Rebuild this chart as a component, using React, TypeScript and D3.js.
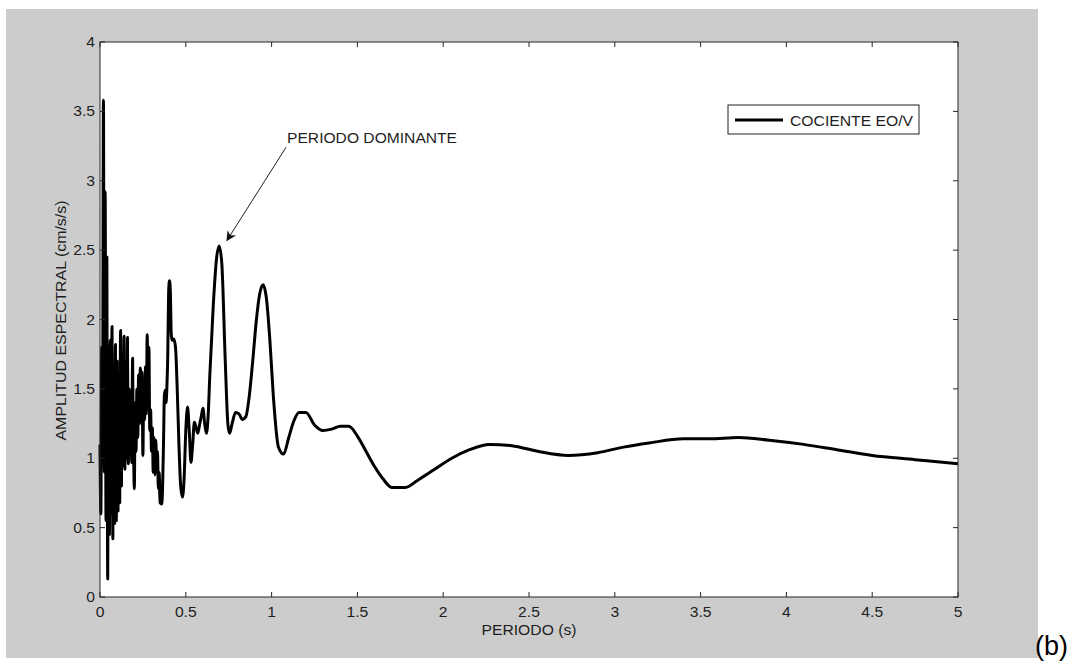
import React from 'react';
import * as d3 from 'd3';

// Spectral ratio curve
const periods = [
  0.000, 0.005, 0.010, 0.015, 0.020, 0.025, 0.030, 0.035,
  0.0400, 0.0425, 0.0450, 0.0475, 0.0500, 0.0525, 0.0550, 0.0575,
  0.0600, 0.0625, 0.0650, 0.0675, 0.0700, 0.0725, 0.0750, 0.0775,
  0.0800, 0.0825, 0.0850, 0.0875, 0.0900, 0.0925, 0.0950, 0.0975,
  0.1000, 0.1025, 0.1050, 0.1075, 0.1100, 0.1125, 0.1150, 0.1175,
  0.1200, 0.1225, 0.1250, 0.1275, 0.1300, 0.1325, 0.1350, 0.1375,
  0.1400, 0.1425, 0.1450, 0.1475, 0.1500, 0.1525, 0.1550, 0.1575,
  0.1600, 0.1625, 0.1650, 0.1675, 0.1700, 0.1725, 0.1750, 0.1775,
  0.1800, 0.1825, 0.1850, 0.1875, 0.1900, 0.1925, 0.1950, 0.1975,
  0.200, 0.205, 0.210, 0.215, 0.220, 0.225, 0.230, 0.235, 0.240, 0.245,
  0.250, 0.255, 0.260, 0.265, 0.270, 0.275, 0.280, 0.285, 0.290, 0.295,
  0.300, 0.305, 0.310, 0.315, 0.320, 0.325, 0.330, 0.335, 0.340, 0.345,
  0.350, 0.360, 0.370, 0.375, 0.380, 0.385, 0.390, 0.395, 0.400, 0.405,
  0.410, 0.415, 0.420, 0.430, 0.440, 0.450, 0.460, 0.470, 0.480, 0.490,
  0.500, 0.510, 0.520, 0.530, 0.540, 0.550, 0.560, 0.570, 0.580, 0.590,
  0.600, 0.610, 0.620, 0.630, 0.640, 0.660, 0.680, 0.695, 0.710, 0.730,
  0.745, 0.755, 0.770, 0.790, 0.810, 0.830, 0.850, 0.870, 0.890, 0.910,
  0.930, 0.950, 0.970, 0.990, 1.010, 1.040, 1.070, 1.100, 1.130, 1.160,
  1.200, 1.250, 1.300, 1.350, 1.400, 1.450, 1.500, 1.550, 1.600, 1.650,
  1.700, 1.780, 1.850, 1.950, 2.050, 2.150, 2.270, 2.400, 2.550, 2.730,
  2.900, 3.050, 3.200, 3.400, 3.550, 3.720, 3.900, 4.100, 4.300, 4.500,
  4.750, 5.000,
];

const amplitudes = [
  1.10, 0.60, 1.80, 1.20, 3.58, 0.90, 2.92, 0.55,
  2.45, 0.90, 0.13, 1.20, 1.80, 0.70, 0.45, 1.50,
  1.85, 0.95, 0.60, 1.40, 1.95, 1.00, 0.42, 1.30,
  1.60, 0.80, 0.53, 1.45, 1.82, 1.10, 0.55, 1.25,
  1.70, 0.90, 0.62, 1.35, 1.55, 0.75, 0.68, 1.50,
  1.92, 1.20, 0.80, 1.40, 1.75, 1.05, 0.95, 1.60,
  1.88, 1.25, 0.92, 1.35, 1.60, 1.15, 1.00, 1.50,
  1.87, 1.30, 0.96, 1.20, 1.50, 1.25, 1.05, 1.35,
  1.45, 1.15, 0.97, 1.40, 1.72, 1.35, 1.10, 0.90,
  0.78, 1.40, 1.05, 1.50, 1.15, 1.60, 1.25, 1.65, 1.30, 1.62,
  1.02, 1.55, 1.28, 1.66, 1.32, 1.89, 1.45, 1.80, 1.20, 1.35,
  1.05, 1.22, 0.90, 1.15, 0.88, 1.13, 0.95, 1.05, 0.78, 0.90,
  0.68, 0.67, 1.10, 1.45, 1.49, 1.40, 1.52, 1.75, 2.20, 2.28,
  2.20, 1.90, 1.85, 1.86, 1.80, 1.50, 1.10, 0.80, 0.72, 0.85,
  1.20, 1.37, 1.20, 0.97, 1.10, 1.26, 1.22, 1.18, 1.24, 1.30,
  1.36, 1.25, 1.18, 1.30, 1.60, 2.10, 2.45, 2.53, 2.40, 1.70,
  1.25, 1.18, 1.25, 1.33, 1.32, 1.28, 1.30, 1.45, 1.70, 1.98,
  2.18, 2.25, 2.15, 1.85, 1.45, 1.08, 1.03, 1.15, 1.27, 1.33,
  1.33, 1.24, 1.20, 1.21, 1.23, 1.23, 1.16, 1.05, 0.94, 0.85,
  0.79, 0.79, 0.84, 0.92, 1.00, 1.06, 1.10, 1.09, 1.05, 1.02,
  1.04, 1.08, 1.11, 1.14, 1.14, 1.15, 1.13, 1.10, 1.06, 1.02,
  0.99, 0.96,
];

const xTicks = [0, 0.5, 1, 1.5, 2, 2.5, 3, 3.5, 4, 4.5, 5];
const yTicks = [0, 0.5, 1, 1.5, 2, 2.5, 3, 3.5, 4];

const seriesLabel = 'COCIENTE EO/V';
const annotationText = 'PERIODO DOMINANTE';
const annotationTip = { x: 0.74, y: 2.57 };
const annotationAnchor = { x: 1.09, y: 3.27 };

const W = 1091;
const H = 663;
const margin = { top: 42, right: 133, bottom: 66, left: 100 };
const plotW = W - margin.left - margin.right;
const plotH = H - margin.top - margin.bottom;
const font = '"Liberation Sans", Arial, Helvetica, sans-serif';
const axisColor = '#262626';
const textColor = '#1e1e1e';
const tickLen = 5;

const App = () => {
  const x = d3.scaleLinear().domain([0, 5]).range([0, plotW]);
  const y = d3.scaleLinear().domain([0, 4]).range([plotH, 0]);

  const points = periods.map((p, i) => [p, amplitudes[i]] as [number, number]);
  const line = d3.line<[number, number]>()
    .x(d => x(d[0]))
    .y(d => y(d[1]))
    .curve(d3.curveMonotoneX);

  // arrow geometry
  const ax1 = x(annotationAnchor.x) - 1;
  const ay1 = y(annotationAnchor.y) + 4;
  const ax2 = x(annotationTip.x);
  const ay2 = y(annotationTip.y);

  return (
    <svg width={W} height={H} style={{ position: 'absolute', left: 0, top: 0, display: 'block' }}
      fontFamily={font}>
      <defs>
        <marker id="arrowHead" viewBox="0 0 10 10" refX="9" refY="5" markerWidth="10" markerHeight="10"
          markerUnits="userSpaceOnUse" orient="auto">
          <path d="M0,0 L10,5 L0,10 L3,5 Z" fill="#111" />
        </marker>
      </defs>
      <rect x={6} y={9} width={1032} height={649} fill="#cccccc" />
      <g transform={`translate(${margin.left},${margin.top})`}>
        <rect x={0} y={0} width={plotW} height={plotH} fill="#ffffff" />

        <path d={line(points) || ''} fill="none" stroke="#000" strokeWidth={3} strokeLinejoin="round" />

        {/* box and ticks */}
        <rect x={0} y={0} width={plotW} height={plotH} fill="none" stroke={axisColor} strokeWidth={1} />
        {xTicks.map(t => (
          <g key={'x' + t}>
            <line x1={x(t)} x2={x(t)} y1={plotH} y2={plotH - tickLen} stroke={axisColor} />
            <line x1={x(t)} x2={x(t)} y1={0} y2={tickLen} stroke={axisColor} />
            <g transform={`translate(${x(t)},${plotH + 20}) scale(1.12,1)`}>
              <text textAnchor="middle" fontSize={14} fill={textColor}>{t}</text>
            </g>
          </g>
        ))}
        {yTicks.map(t => (
          <g key={'y' + t}>
            <line x1={0} x2={tickLen} y1={y(t)} y2={y(t)} stroke={axisColor} />
            <line x1={plotW} x2={plotW - tickLen} y1={y(t)} y2={y(t)} stroke={axisColor} />
            <g transform={`translate(${-5},${y(t) + 5}) scale(1.12,1)`}>
              <text textAnchor="end" fontSize={14} fill={textColor}>{t}</text>
            </g>
          </g>
        ))}

        <text x={plotW / 2} y={plotH + 38} textAnchor="middle" fontSize={14.5} fill={textColor}
          textLength={95} lengthAdjust="spacingAndGlyphs">PERIODO (s)</text>
        <text transform={`translate(${-34},${plotH / 2 + 1}) rotate(-90)`} textAnchor="middle" fontSize={15}
          fill={textColor} textLength={240} lengthAdjust="spacingAndGlyphs">
          AMPLITUD ESPECTRAL (cm/s/s)
        </text>

        {/* annotation */}
        <line x1={ax1} y1={ay1} x2={ax2} y2={ay2} stroke="#222" strokeWidth={1} markerEnd="url(#arrowHead)" />
        <text x={x(annotationAnchor.x)} y={y(annotationAnchor.y)} fontSize={15} fill={textColor}
          textLength={170} lengthAdjust="spacingAndGlyphs">{annotationText}</text>

        {/* legend */}
        <g transform={`translate(${628},${63})`}>
          <rect x={0} y={0} width={191} height={29} fill="#fff" stroke="#222" strokeWidth={1} />
          <line x1={7} x2={55} y1={15} y2={15} stroke="#000" strokeWidth={3} />
          <text x={62} y={20.5} fontSize={14.5} fill={textColor}
            textLength={123} lengthAdjust="spacingAndGlyphs">{seriesLabel}</text>
        </g>
      </g>
      <text x={1035} y={655} fontSize={27} fill="#000">(b)</text>
    </svg>
  );
};

export default App;
